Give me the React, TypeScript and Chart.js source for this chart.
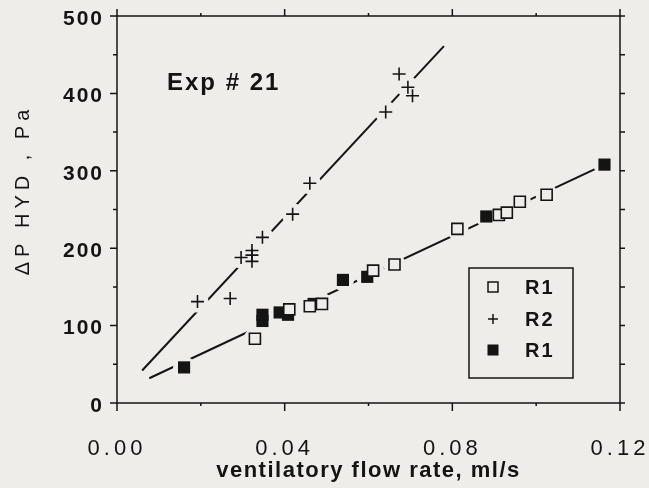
import React, { useEffect, useRef } from 'react';
import { Chart, registerables } from 'chart.js';

Chart.register(...registerables);

// ---- data ----
const R1_OPEN_X = [0.0329, 0.0411, 0.046, 0.0489, 0.0611, 0.0662, 0.0812, 0.0911, 0.093, 0.0961, 0.1025];
const R1_OPEN_Y = [83, 121, 125, 128, 171, 179, 225, 243, 246, 260, 269];

const R2_X = [0.0192, 0.027, 0.0296, 0.0322, 0.0322, 0.0322, 0.0347, 0.0419, 0.046, 0.0641, 0.0673, 0.0694, 0.0705];
const R2_Y = [131, 135, 188, 183, 191, 197, 214, 244, 284, 376, 425, 408, 397];

const R1_FILLED_X = [0.016, 0.0347, 0.0347, 0.0388, 0.0408, 0.0469, 0.0539, 0.0597, 0.0881, 0.1163];
const R1_FILLED_Y = [46, 106, 114, 117, 114, 128, 159, 163, 241, 308];

const R1_FIT_X = [0.0077, 0.1163];
const R1_FIT_Y = [32, 308];
const R2_FIT_X = [0.006, 0.078];
const R2_FIT_Y = [42, 461];

const X_TICKS = [0, 0.04, 0.08, 0.12];
const X_TICK_LABELS = ['0.00', '0.04', '0.08', '0.12'];
const X_TICK_MARKS = [0, 0.02, 0.04, 0.06, 0.08, 0.1, 0.12];
const Y_TICKS = [0, 100, 200, 300, 400, 500];
const Y_TICK_LABELS = ['0', '100', '200', '300', '400', '500'];
const Y_TICK_MARKS = [0, 50, 100, 150, 200, 250, 300, 350, 400, 450, 500];

const LEGEND_LABELS = ['R1', 'R2', 'R1'];
const NOTE_TEXT = 'Exp # 21';
const X_TITLE = 'ventilatory flow rate, ml/s';
const Y_TITLE = '\u0394P HYD , Pa';

const BG = '#efedea';
const INK = '#141414';
const FONT = "'Liberation Sans', Arial, sans-serif";

const pts = (xs: number[], ys: number[]) => xs.map((x, i) => ({ x, y: ys[i] }));

function withSpacing(chart: any, obj: any, key: string, spacing: string) {
  if (obj[`__p_${key}`]) return;
  const orig = obj[key].bind(obj);
  obj[key] = (...args: any[]) => {
    const ctx = chart.ctx;
    ctx.save();
    ctx.letterSpacing = spacing;
    orig(...args);
    ctx.restore();
  };
  obj[`__p_${key}`] = true;
}

export default function App() {
  const ref = useRef<HTMLCanvasElement | null>(null);

  useEffect(() => {
    if (!ref.current) return;

    const decor = {
      id: 'decor',
      afterUpdate(chart: any) {
        withSpacing(chart, chart.scales.x, 'drawLabels', '4px');
        withSpacing(chart, chart.scales.x, 'drawTitle', '1.5px');
        withSpacing(chart, chart.scales.y, 'drawLabels', '2px');
      },
      beforeDraw(chart: any) {
        const ctx = chart.ctx;
        ctx.save();
        ctx.fillStyle = BG;
        ctx.fillRect(0, 0, chart.width, chart.height);
        ctx.restore();
      },
      beforeDatasetsDraw(chart: any) {
        const ctx = chart.ctx;
        const xs = chart.scales.x;
        const ys = chart.scales.y;
        const L = xs.getPixelForValue(0);
        const R = xs.getPixelForValue(0.12);
        const T = ys.getPixelForValue(500);
        const B = ys.getPixelForValue(0);
        ctx.save();
        ctx.strokeStyle = INK;
        ctx.lineWidth = 1.5;
        ctx.beginPath();
        ctx.rect(L, T, R - L, B - T);
        ctx.stroke();
        ctx.beginPath();
        X_TICK_MARKS.forEach((v) => {
          const major = X_TICKS.includes(v);
          const px = xs.getPixelForValue(v);
          ctx.moveTo(px, B);
          ctx.lineTo(px, B + (major ? 8 : 3));
          ctx.moveTo(px, T);
          ctx.lineTo(px, T - (major ? 7 : 3));
        });
        Y_TICK_MARKS.forEach((v) => {
          const major = Y_TICKS.includes(v);
          const py = ys.getPixelForValue(v);
          ctx.moveTo(L, py);
          ctx.lineTo(L - (major ? 7 : 4), py);
          ctx.moveTo(R, py);
          ctx.lineTo(R + 5, py);
        });
        ctx.stroke();
        ctx.restore();
      },
      afterDraw(chart: any) {
        const ctx = chart.ctx;
        ctx.save();
        ctx.fillStyle = INK;
        // note
        ctx.font = `bold 24px ${FONT}`;
        ctx.letterSpacing = '2px';
        ctx.textAlign = 'left';
        ctx.textBaseline = 'alphabetic';
        ctx.fillText(NOTE_TEXT, 167, 90);
        // y title
        ctx.save();
        ctx.translate(23, 190);
        ctx.rotate(-Math.PI / 2);
        ctx.font = `20px ${FONT}`;
        ctx.letterSpacing = '5px';
        ctx.textAlign = 'center';
        ctx.textBaseline = 'middle';
        ctx.fillText(Y_TITLE, 0, 0);
        ctx.restore();
        // legend
        const bx = 469, by = 268, bw = 104, bh = 110;
        ctx.strokeStyle = INK;
        ctx.lineWidth = 1.5;
        ctx.strokeRect(bx, by, bw, bh);
        const rows = [287, 319, 350];
        const mx = 493;
        ctx.font = `bold 20px ${FONT}`;
        ctx.letterSpacing = '2px';
        ctx.textAlign = 'left';
        ctx.textBaseline = 'middle';
        LEGEND_LABELS.forEach((lab, i) => {
          const y = rows[i];
          ctx.lineWidth = 1.5;
          if (i === 0) {
            ctx.fillStyle = BG;
            ctx.fillRect(mx - 5, y - 5, 10, 10);
            ctx.strokeRect(mx - 5, y - 5, 10, 10);
          } else if (i === 1) {
            ctx.beginPath();
            ctx.moveTo(mx - 5, y);
            ctx.lineTo(mx + 5, y);
            ctx.moveTo(mx, y - 5);
            ctx.lineTo(mx, y + 5);
            ctx.stroke();
          } else {
            ctx.fillStyle = INK;
            ctx.fillRect(mx - 5.5, y - 5.5, 11, 11);
          }
          ctx.fillStyle = INK;
          ctx.fillText(lab, 525, y + 1);
        });
        ctx.restore();
      },
    };

    const r1All = [...pts(R1_OPEN_X, R1_OPEN_Y), ...pts(R1_FILLED_X, R1_FILLED_Y)];

    const chart = new Chart(ref.current, {
      type: 'scatter',
      data: {
        datasets: [
          {
            label: 'R1 fit',
            data: pts(R1_FIT_X, R1_FIT_Y),
            showLine: true,
            borderColor: INK,
            borderWidth: 2,
            pointRadius: 0,
            order: 5,
          },
          {
            label: 'R2 fit',
            data: pts(R2_FIT_X, R2_FIT_Y),
            showLine: true,
            borderColor: INK,
            borderWidth: 2,
            pointRadius: 0,
            order: 5,
          },
          {
            label: 'halo R1',
            data: r1All,
            pointStyle: 'circle',
            pointRadius: 11,
            backgroundColor: BG,
            borderWidth: 0,
            order: 4,
          },
          {
            label: 'halo R2',
            data: pts(R2_X, R2_Y),
            pointStyle: 'circle',
            pointRadius: 11,
            backgroundColor: BG,
            borderWidth: 0,
            order: 4,
          },
          {
            label: 'R1 filled',
            data: pts(R1_FILLED_X, R1_FILLED_Y),
            pointStyle: 'rect',
            pointRadius: 8.6,
            backgroundColor: INK,
            borderColor: INK,
            borderWidth: 0,
            order: 2,
          },
          {
            label: 'R2',
            data: pts(R2_X, R2_Y),
            pointStyle: 'cross',
            pointRadius: 6.5,
            borderColor: INK,
            borderWidth: 1.6,
            order: 1,
          },
          {
            label: 'R1 open',
            data: pts(R1_OPEN_X, R1_OPEN_Y),
            pointStyle: 'rect',
            pointRadius: 7.8,
            backgroundColor: BG,
            borderColor: INK,
            borderWidth: 1.6,
            order: 0,
          },
        ],
      },
      options: {
        responsive: false,
        animation: false,
        events: [],
        layout: { padding: { top: 16, right: 29, left: 0, bottom: 0 } },
        plugins: {
          legend: { display: false },
          tooltip: { enabled: false },
        },
        scales: {
          x: {
            type: 'linear',
            min: 0,
            max: 0.12,
            afterBuildTicks: (s: any) => {
              s.ticks = X_TICKS.map((v) => ({ value: v }));
            },
            afterFit: (s: any) => {
              s.height = 85;
              s.paddingLeft = 0;
              s.paddingRight = 0;
            },
            grid: { display: false, drawTicks: false },
            border: { display: false },
            ticks: {
              autoSkip: false,
              maxRotation: 0,
              padding: 33,
              color: INK,
              font: { family: FONT, size: 22, weight: 'normal' },
              callback: (_v: any, i: number) => X_TICK_LABELS[i],
            },
            title: {
              display: true,
              text: X_TITLE,
              color: INK,
              font: { family: FONT, size: 22, weight: 'bold' },
              padding: { top: 0, bottom: 4 },
            },
          },
          y: {
            type: 'linear',
            min: 0,
            max: 500,
            afterBuildTicks: (s: any) => {
              s.ticks = Y_TICKS.map((v) => ({ value: v }));
            },
            afterFit: (s: any) => {
              s.width = 117;
              s.paddingTop = 0;
              s.paddingBottom = 0;
            },
            grid: { display: false, drawTicks: false },
            border: { display: false },
            ticks: {
              autoSkip: false,
              padding: 13,
              labelOffset: 3,
              color: INK,
              font: { family: FONT, size: 21, weight: 'bold' },
              callback: (_v: any, i: number) => Y_TICK_LABELS[i],
            },
          },
        },
      },
      plugins: [decor],
    } as any);

    return () => chart.destroy();
  }, []);

  return (
    <div style={{ position: 'fixed', left: 0, top: 0, width: 649, height: 488, background: BG }}>
      <canvas ref={ref} width={649} height={488} />
    </div>
  );
}
